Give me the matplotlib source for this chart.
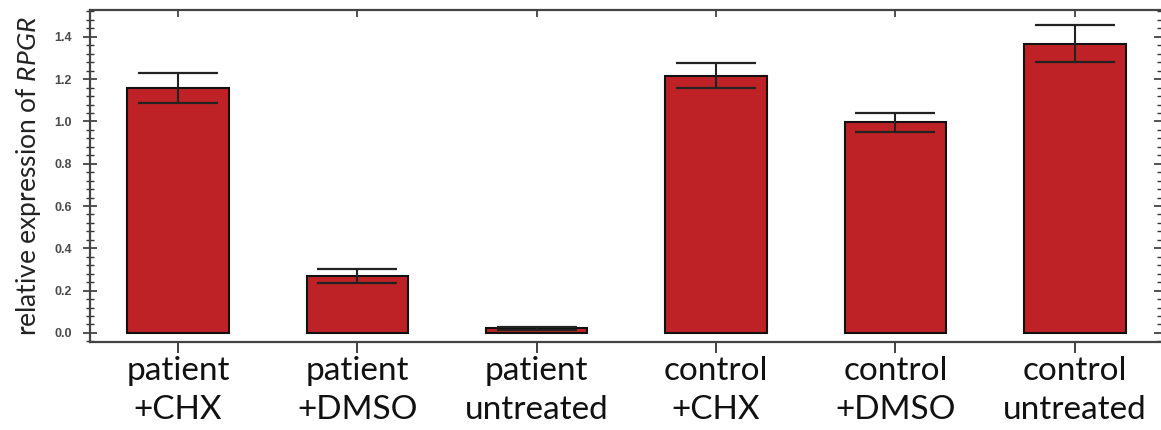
import matplotlib
matplotlib.use("Agg")
import matplotlib.pyplot as plt
from matplotlib.ticker import MultipleLocator, FormatStrFormatter

categories = ["patient\n+CHX", "patient\n+DMSO", "patient\nuntreated",
              "control\n+CHX", "control\n+DMSO", "control\nuntreated"]
values = [1.157, 0.270, 0.022, 1.216, 0.995, 1.368]
errors = [0.072, 0.034, 0.007, 0.060, 0.043, 0.086]

plt.rcParams['mathtext.fontset'] = 'custom'
plt.rcParams['mathtext.rm'] = 'Lato'
plt.rcParams['mathtext.it'] = 'Lato:italic'

fig = plt.figure(figsize=(11.61, 4.30), dpi=100)
ax = fig.add_axes([90/1161, 1-342/430, 1-90/1161, (342-10)/430])

x = list(range(len(categories)))
ax.bar(x, values, width=0.565, color="#BF2226", edgecolor="#111111", linewidth=1.5, zorder=2)
ax.errorbar(x, values, yerr=errors, fmt="none", ecolor="#222222", elinewidth=1.5,
            capsize=29, capthick=1.6, zorder=3)

ax.set_xlim(-0.49, 5.48)
ax.set_ylim(-0.043, 1.527)

ax.set_xticks(x)
ax.set_xticklabels(categories, fontsize=24, family="Lato", linespacing=1.38,
                   color="#111111")
ax.yaxis.set_major_locator(MultipleLocator(0.2))
ax.yaxis.set_minor_locator(MultipleLocator(0.04))
ax.yaxis.set_major_formatter(FormatStrFormatter("%.1f"))
for lbl in ax.get_yticklabels():
    lbl.set_fontsize(9)
    lbl.set_fontweight("bold")
    lbl.set_family("Liberation Sans")
    lbl.set_color("#4a4a4a")

ax.tick_params(axis="y", which="major", direction="inout", length=10, width=1.2,
               color="#333333", left=True, right=True, pad=8)
ax.tick_params(axis="y", which="minor", direction="inout", length=6, width=1.0,
               color="#333333", left=True, right=True)
ax.tick_params(axis="x", which="major", direction="out", length=8, width=1.3,
               color="#333333", bottom=True, top=False, pad=2)

# top ticks pointing inward at category positions
sec = ax.secondary_xaxis("top")
sec.set_xticks(x)
sec.set_xticklabels([])
sec.tick_params(direction="in", length=5, width=1.2, color="#333333")
sec.spines["top"].set_visible(False)

for side in ["left", "bottom", "top"]:
    ax.spines[side].set_color("#444444")
    ax.spines[side].set_linewidth(1.6)
ax.spines["right"].set_visible(False)

ax.set_ylabel(r"relative expression of $\mathit{RPGR}$", fontsize=19, family="Lato",
              labelpad=8, color="#222222")

fig.savefig("out.png", dpi=100)
